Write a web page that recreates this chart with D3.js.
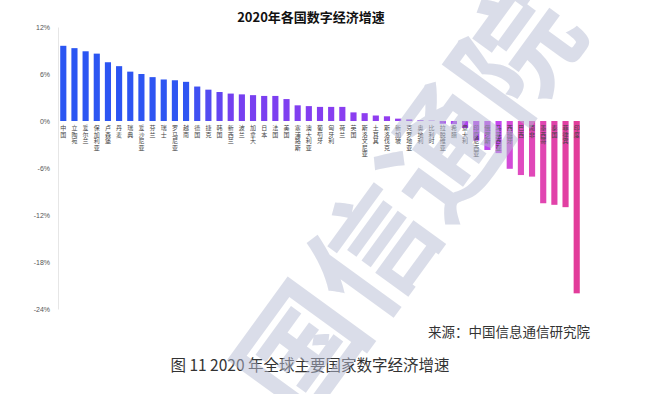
<!DOCTYPE html>
<html>
<head>
<meta charset="utf-8">
<script src="https://cdn.jsdelivr.net/npm/d3@7"></script>
<style>
    body { margin: 0; background: #fff; }
    svg { display: block; font-family: "Noto Sans CJK SC", "Noto Sans", sans-serif; }
</style>
</head>
<body>
<div id="chart"></div>
<script>
// 国家
const countries = ['中国', '立陶宛', '爱尔兰', '保加利亚', '卢森堡', '丹麦', '瑞典', '爱沙尼亚', '芬兰', '瑞士',
    '罗马尼亚', '越南', '德国', '捷克', '韩国', '新西兰', '波兰', '加拿大', '日本', '法国',
    '美国', '塞浦路斯', '澳大利亚', '葡萄牙', '匈牙利', '荷兰', '英国', '斯洛文尼亚', '土耳其', '斯洛伐克',
    '新加坡', '克罗地亚', '奥地利', '比利时', '拉脱维亚', '希腊', '意大利', '印度尼西亚', '俄罗斯', '马来西亚',
    '西班牙', '巴西', '南非', '墨西哥', '泰国', '菲律宾', '印度'];
// 增速 (%)
const growth = [9.6, 9.3, 8.9, 8.6, 7.5, 7.0, 6.3, 6.0, 5.6, 5.3,
    5.2, 5.0, 4.4, 4.0, 3.7, 3.5, 3.4, 3.3, 3.2, 3.2,
    2.8, 2.0, 1.9, 1.8, 1.8, 1.8, 1.1, 1.0, 0.7, 0.6,
    0.3, 0.2, 0.1, 0.05, -0.35, -0.4, -0.9, -2.5, -3.7, -4.1,
    -6.1, -6.9, -7.1, -10.5, -10.7, -11.0, -22.0];
const yTicks = [12, 6, 0, -6, -12, -18, -24];

const W = 654, H = 394;
const svg = d3.select('#chart').append('svg')
    .attr('width', W)
    .attr('height', H);

// 标题
svg.append('text')
    .attr('x', 311)
    .attr('y', 22)
    .attr('text-anchor', 'middle')
    .attr('font-size', 13)
    .attr('font-weight', 'bold')
    .attr('fill', '#111')
    .text('2020年各国数字经济增速');

// 比例尺
const x = d3.scaleBand()
    .domain(countries)
    .range([55.2, 584.8])
    .padding(0.45);

const y = d3.scaleLinear()
    .domain([-24, 12])
    .range([309, 27]);

const color = d3.scaleLinear()
    .domain([0, 11, 15, 33, 39, 41, 46])
    .range(['#2a55f2', '#2f55f2', '#7440f0', '#9a3cf0', '#c548ee', '#e04bc0', '#e23c9a']);

// 纵轴
const yAxis = svg.append('g')
    .attr('transform', 'translate(58,0)')
    .call(d3.axisLeft(y).tickValues(yTicks).tickSize(0).tickPadding(8).tickFormat(d => d + '%'));
yAxis.select('.domain').attr('stroke', '#e6e6e6');
yAxis.selectAll('text')
    .attr('font-size', 7)
    .attr('fill', '#555');

// 柱子
svg.selectAll('rect.bar')
    .data(growth)
    .enter()
    .append('rect')
    .attr('class', 'bar')
    .attr('x', (d, i) => x(countries[i]))
    .attr('y', d => y(Math.max(0, d)))
    .attr('width', x.bandwidth())
    .attr('height', d => Math.abs(y(d) - y(0)))
    .attr('fill', (d, i) => color(i));

// 国家标签 (竖排, 每字一行)
const catFont = 6;
const catStep = 6.6;
const cats = svg.selectAll('text.cat')
    .data(countries)
    .enter()
    .append('text')
    .attr('class', 'cat')
    .attr('text-anchor', 'middle')
    .attr('font-size', catFont)
    .attr('fill', '#444');
cats.selectAll('tspan')
    .data(d => Array.from(d).map((c, k) => ({c, k, name: d})))
    .enter()
    .append('tspan')
    .attr('x', d => x(d.name) + x.bandwidth() / 2)
    .attr('y', d => y(0) + 3 + catFont + catStep * d.k)
    .text(d => d.c);

// 来源与图注
svg.append('text')
    .attr('x', 590)
    .attr('y', 337)
    .attr('text-anchor', 'end')
    .attr('font-size', 13.5)
    .attr('fill', '#333')
    .text('来源：中国信息通信研究院');

svg.append('text')
    .attr('x', 310)
    .attr('y', 371)
    .attr('text-anchor', 'middle')
    .attr('font-size', 15.5)
    .attr('fill', '#333')
    .text('图 11 2020 年全球主要国家数字经济增速');

// 水印
svg.append('text')
    .attr('transform', 'translate(445,228) rotate(-54)')
    .attr('text-anchor', 'middle')
    .attr('font-size', 122)
    .attr('font-weight', 'bold')
    .attr('fill', '#b7bdd4')
    .attr('opacity', 0.5)
    .text('国信通院');
</script>
</body>
</html>
